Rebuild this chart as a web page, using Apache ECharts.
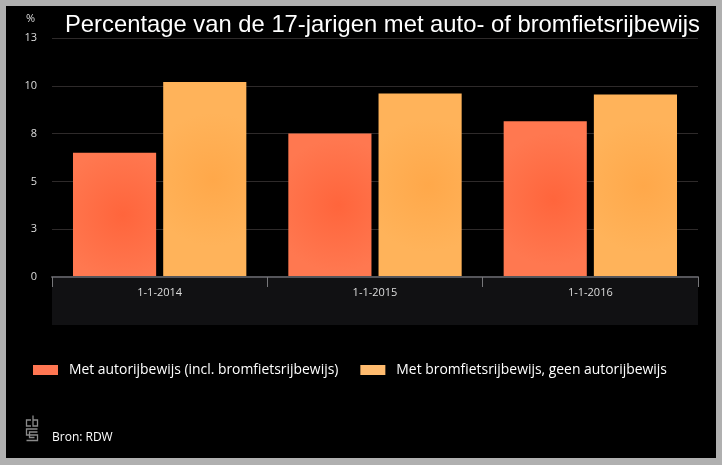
<!DOCTYPE html>
<html><head><meta charset="utf-8">
<style>html,body{margin:0;padding:0;background:#b0b0b0;}#c{width:722px;height:465px;}</style>
<script src="https://cdn.jsdelivr.net/npm/echarts@6/dist/echarts.min.js"></script>
</head><body><div id="c"></div>
<script>
const categories = ['1-1-2014', '1-1-2015', '1-1-2016'];
const seriesNames = ['Met autorijbewijs (incl. bromfietsrijbewijs)', 'Met bromfietsrijbewijs, geen autorijbewijs'];
const autoValues = [6.5, 7.5, 8.15];
const bromValues = [10.2, 9.6, 9.55];
const titleText = 'Percentage van de 17-jarigen met auto- of bromfietsrijbewijs';
const unitLabel = '%';
const sourceText = 'Bron: RDW';

const chart = echarts.init(document.getElementById('c'), null, {renderer: 'canvas'});
function radial(inner, outer) {
  return {type: 'radial', x: 0.6, y: 0.5, r: 0.8, colorStops: [{offset: 0, color: inner}, {offset: 1, color: outer}]};
}
const uiFont = '"Open Sans", "Noto Sans", sans-serif';
const logoStroke = {fill: 'none', stroke: '#8a8a8a', lineWidth: 1.3};
chart.setOption({
  backgroundColor: '#b0b0b0',
  animation: false,
  title: {
    text: titleText, left: 60, top: 8,
    textStyle: {color: '#fff', fontSize: 23.8, fontWeight: 'normal', fontFamily: '"Liberation Sans", Arial, sans-serif'}
  },
  grid: {left: 52, right: 24, top: 38, bottom: 188, containLabel: false},
  legend: {
    left: 28, top: 358, itemWidth: 25, itemHeight: 10, itemGap: 22,
    icon: 'rect',
    textStyle: {color: '#fff', fontSize: 13.9, fontFamily: uiFont, padding: [0, 0, 0, 6]},
    data: [
      {name: seriesNames[0], itemStyle: {color: '#ff7652'}},
      {name: seriesNames[1], itemStyle: {color: '#ffbb6e'}}
    ]
  },
  xAxis: {
    type: 'category', data: categories,
    axisLine: {lineStyle: {color: '#55555a', width: 2}},
    axisTick: {show: true, length: 10, lineStyle: {color: '#77777a'}},
    axisLabel: {color: '#ddd', fontSize: 11, fontFamily: uiFont, margin: 10},
    z: 5
  },
  yAxis: {
    type: 'value', min: 0, max: 12.5, interval: 2.5,
    name: unitLabel, nameLocation: 'end', nameGap: 14,
    nameTextStyle: {color: '#ddd', fontSize: 11, align: 'right', padding: [0, 17, 0, 0], fontFamily: uiFont},
    axisLine: {show: false}, axisTick: {show: false},
    axisLabel: {color: '#ddd', fontSize: 11, fontFamily: uiFont, margin: 15, formatter: v => String(Math.round(v))},
    splitLine: {lineStyle: {color: '#2e2a2a', width: 1}}
  },
  series: [
    {name: seriesNames[0], type: 'bar', data: autoValues, barGap: '8.5%', barCategoryGap: '19.5%',
     itemStyle: {color: radial('#ff653c', '#ff7850')}},
    {name: seriesNames[1], type: 'bar', data: bromValues,
     itemStyle: {color: radial('#ffa84a', '#ffb35a')}}
  ],
  graphic: [
    {type: 'rect', shape: {x: 6, y: 6, width: 710, height: 452}, style: {fill: '#000'}, z: -20, silent: true},
    {type: 'rect', shape: {x: 52, y: 277, width: 646, height: 48}, style: {fill: '#111113'}, z: -1, silent: true},
    {type: 'text', x: 52, y: 438, style: {text: sourceText, fill: '#fff', font: '12px "Open Sans", sans-serif', verticalAlign: 'middle'}},
    {type: 'group', x: 26, y: 415, children: [
      {type: 'polyline', shape: {points: [[5, 5], [0.5, 5], [0.5, 11], [5, 11]]}, style: logoStroke},
      {type: 'polyline', shape: {points: [[7, 0.5], [7, 11], [11.5, 11], [11.5, 5], [7, 5]]}, style: logoStroke},
      {type: 'polyline', shape: {points: [[11.5, 14], [0.5, 14], [0.5, 20], [11.5, 20], [11.5, 25.5], [0.5, 25.5]]}, style: logoStroke},
      {type: 'polyline', shape: {points: [[11.5, 17], [3.5, 17], [3.5, 22.5], [8.5, 22.5]]}, style: logoStroke}
    ]}
  ]
});
</script></body></html>
